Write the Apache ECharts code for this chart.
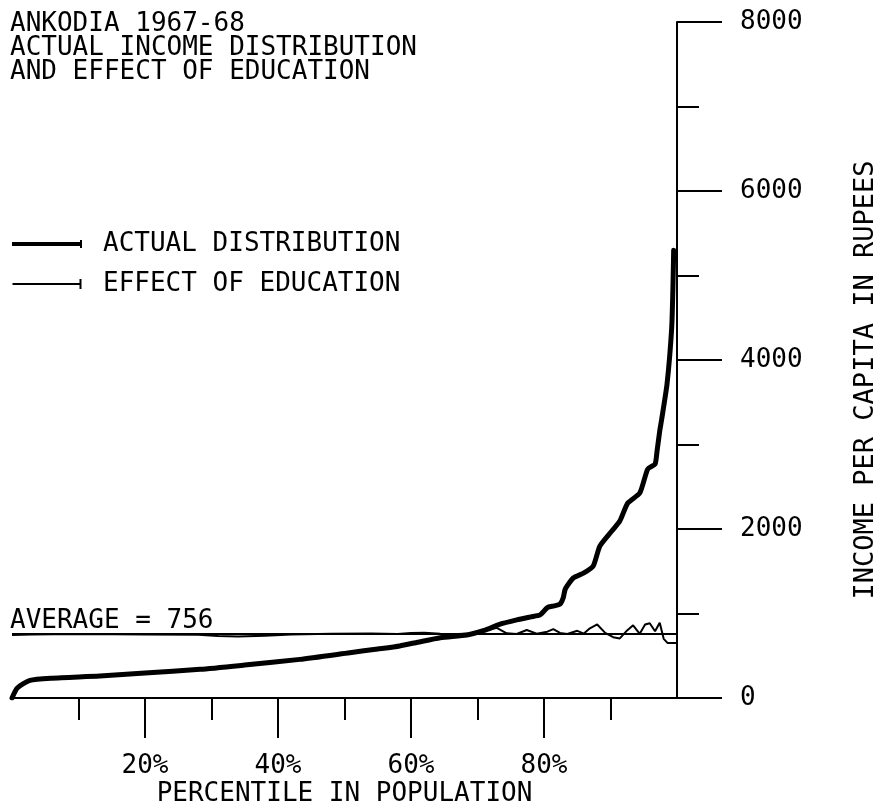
<!DOCTYPE html>
<html>
<head>
<meta charset="utf-8">
<script src="https://cdn.jsdelivr.net/npm/echarts@6/dist/echarts.min.js"></script>
<style>
  html, body { margin: 0; padding: 0; background: #fff; }
  #chart { width: 886px; height: 808px; }
</style>
</head>
<body>
<div id="chart"></div>
<script>
// Ankodia 1967-68: income per capita by population percentile
const titleLines = ['ANKODIA 1967-68', 'ACTUAL INCOME DISTRIBUTION', 'AND EFFECT OF EDUCATION'];
const seriesNames = ['ACTUAL DISTRIBUTION', 'EFFECT OF EDUCATION'];
const averageIncome = 756;

// Actual distribution (percentile, rupees)
const actualPct = [0, 0.8, 2.7, 6, 13.2, 20, 28.3, 35, 43.3, 50.8, 55, 58.3, 61, 64.4, 68.4, 71, 73.4, 75.9, 78, 79.4,
  80.5, 81.5, 82.4, 82.9, 83.2, 84.4, 86, 87.4, 88.4, 90.2, 91.4, 92.6, 94.4, 95.6, 96.7, 97.0, 97.4, 97.7, 98.5, 99.2, 99.4, 99.5];
const actualIncome = [0, 118, 209, 235, 260, 295, 339, 390, 457, 536, 580, 616, 660, 714, 746, 800, 873, 924, 960, 983,
  1070, 1090, 1110, 1188, 1290, 1420, 1480, 1562, 1798, 1976, 2094, 2307, 2425, 2709, 2768, 2922, 3159, 3300, 3715, 4377, 4898, 5300];

// Distribution after the effect of education
const effectPct = [0, 3, 10, 20, 28, 31, 34, 38, 42, 48, 54, 58, 60, 62, 64.4, 67, 69, 70.4, 71.4, 72.9, 74.4, 75.9, 77.4, 78.9,
  80.5, 81.4, 82.4, 83.5, 85, 86, 86.9, 88, 89.2, 90.4, 91.4, 92.5, 93.4, 94.4, 95.2, 95.9, 96.7, 97.4, 98.0, 98.6, 100];
const effectIncome = [745, 752, 756, 752, 748, 735, 728, 738, 752, 760, 762, 757, 768, 772, 760, 757, 762, 770, 800, 830, 765, 758, 805, 762,
  785, 815, 770, 757, 795, 762, 825, 870, 770, 720, 705, 800, 860, 760, 870, 885, 790, 890, 700, 650, 650];

// Axis ticks
const xMajorTicks = [20, 40, 60, 80];
const xLabels = { 20: '20%', 40: '40%', 60: '60%', 80: '80%' };
const yTickLabels = ['0', '2000', '4000', '6000', '8000'];
const xAxisTitle = 'PERCENTILE IN POPULATION';
const yAxisTitle = 'INCOME PER CAPITA IN RUPEES';

const FONT = '"DejaVu Sans Mono", monospace';
const INK = '#000';

const actualData = actualPct.map((p, i) => [p, actualIncome[i]]);
const effectData = effectPct.map((p, i) => {
  const item = { value: [p, effectIncome[i]] };
  if (i === effectPct.length - 1) {
    item.symbol = 'rect';
    item.symbolSize = [2, 12];
  }
  return item;
});

const chart = echarts.init(document.getElementById('chart'), null, { renderer: 'canvas' });

const option = {
  backgroundColor: '#fff',
  animation: false,
  textStyle: { fontFamily: FONT, color: INK },
  grid: { left: 12, right: 209, top: 22, bottom: 110, outerBoundsMode: 'none', containLabel: false },
  graphic: [
    {
      type: 'text', left: 10, top: 11,
      style: { text: titleLines.join('\n'), font: '26px ' + FONT, lineHeight: 24, fill: INK }
    },
    {
      type: 'text', x: 866, y: 380, rotation: Math.PI / 2,
      style: { text: yAxisTitle, font: '27px ' + FONT, fill: INK, align: 'center', verticalAlign: 'middle' }
    }
  ],
  legend: {
    orient: 'vertical',
    left: 12,
    top: 231,
    itemWidth: 70,
    itemHeight: 10,
    itemGap: 14,
    padding: 0,
    selectedMode: false,
    textStyle: { fontFamily: FONT, fontSize: 26, color: INK, padding: [0, 0, 0, 16] },
    data: [
      { name: seriesNames[0], icon: 'path://M0,3 L68,3 L68,1 L70,1 L70,9 L68,9 L68,7 L0,7 Z' },
      { name: seriesNames[1], icon: 'path://M0,4 L67,4 L67,0 L69,0 L69,10 L67,10 L67,6 L0,6 Z' }
    ]
  },
  xAxis: {
    type: 'value',
    min: 0,
    max: 100,
    interval: 20,
    splitLine: { show: false },
    axisLine: { show: true, onZero: false, lineStyle: { color: INK, width: 2 } },
    axisTick: { show: true, customValues: xMajorTicks, length: 40, lineStyle: { color: INK, width: 2 } },
    minorTick: { show: true, splitNumber: 2, length: 22, lineStyle: { color: INK, width: 2 } },
    axisLabel: {
      customValues: xMajorTicks,
      margin: 55,
      fontFamily: FONT, fontSize: 26, color: INK,
      formatter: v => xLabels[v] || ''
    },
    name: xAxisTitle,
    nameLocation: 'middle',
    nameGap: 96,
    nameMoveOverlap: false,
    nameTextStyle: { fontFamily: FONT, fontSize: 26, color: INK, verticalAlign: 'middle' }
  },
  yAxis: {
    type: 'value',
    position: 'right',
    min: 0,
    max: 8000,
    interval: 2000,
    splitLine: { show: false },
    axisLine: { show: true, onZero: false, lineStyle: { color: INK, width: 2 } },
    axisTick: { show: true, length: 45, lineStyle: { color: INK, width: 2 } },
    minorTick: { show: true, splitNumber: 2, length: 22, lineStyle: { color: INK, width: 2 } },
    axisLabel: {
      margin: 63,
      fontFamily: FONT, fontSize: 26, color: INK,
      formatter: v => yTickLabels[v / 2000]
    }
  },
  series: [
    {
      name: seriesNames[0],
      type: 'line',
      data: actualData,
      showSymbol: false,
      smooth: 0.2,
      color: INK,
      lineStyle: { color: INK, width: 5, cap: 'round', join: 'round' },
      z: 3
    },
    {
      name: seriesNames[1],
      type: 'line',
      data: effectData,
      symbol: 'none',
      showSymbol: true,
      color: INK,
      itemStyle: { color: INK },
      lineStyle: { color: INK, width: 2 },
      z: 2,
      markLine: {
        silent: true,
        symbol: ['none', 'none'],
        lineStyle: { color: INK, width: 2, type: 'solid' },
        label: {
          show: true,
          position: 'insideStartTop',
          distance: [-2, 0],
          formatter: 'AVERAGE = ' + averageIncome,
          fontFamily: FONT, fontSize: 26, color: INK
        },
        data: [{ yAxis: averageIncome }]
      }
    }
  ]
};

chart.setOption(option);
</script>
</body>
</html>
